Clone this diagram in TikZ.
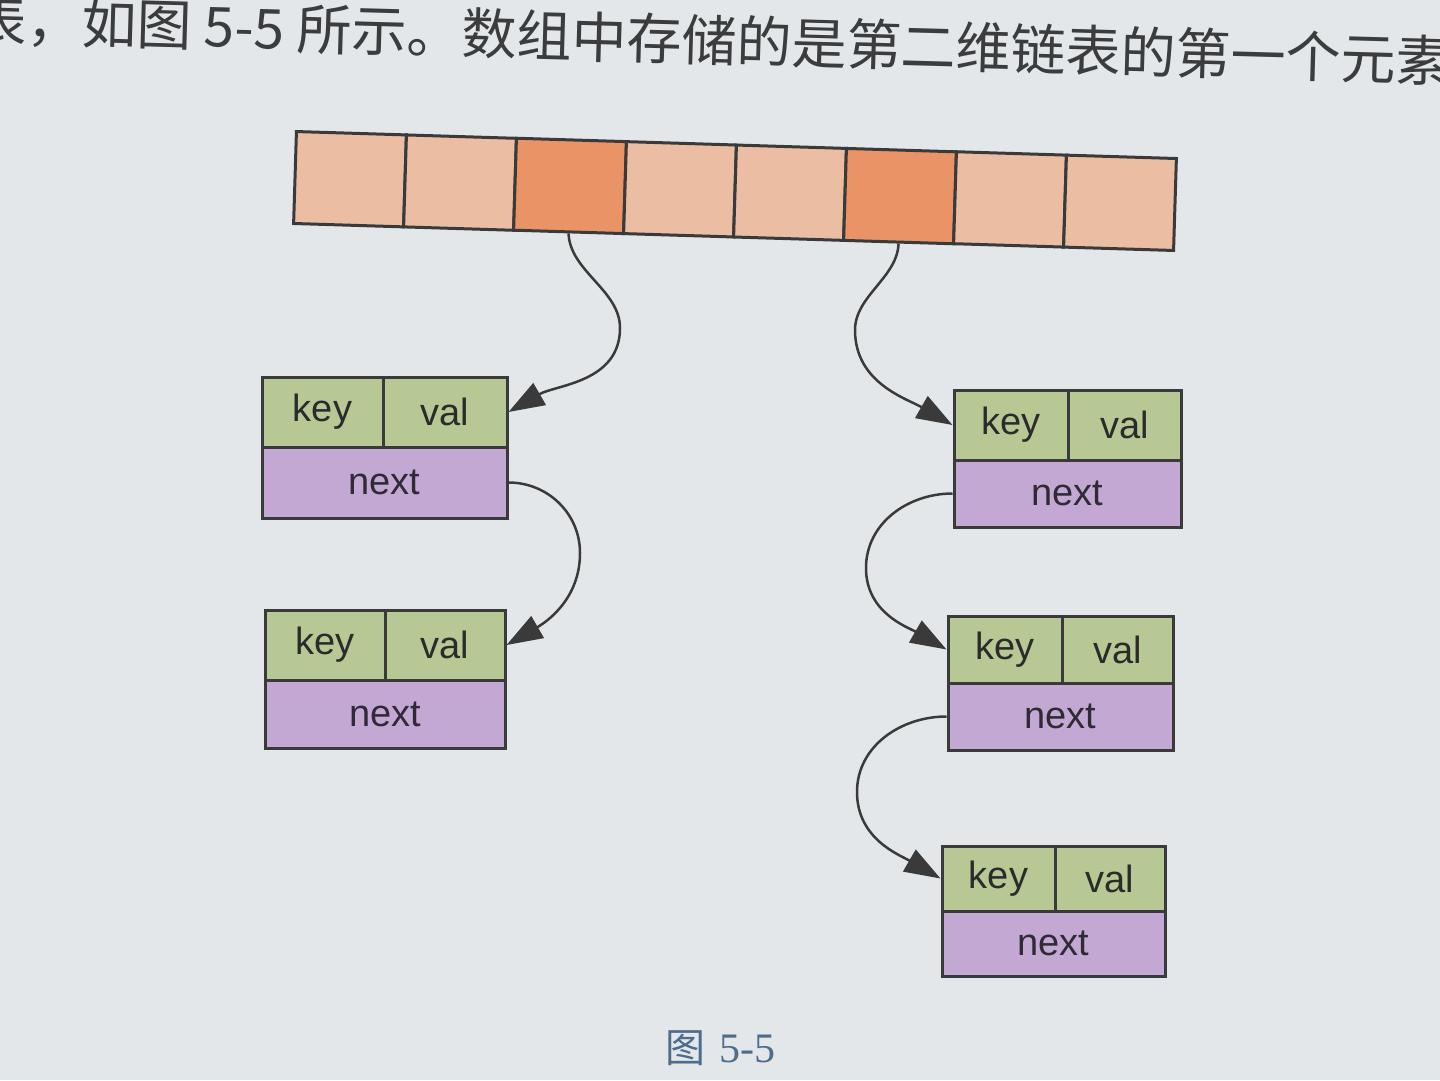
\documentclass[tikz,border=0pt]{standalone}
\usepackage{fontspec}
\setmainfont{Liberation Sans}
\newfontfamily\cjk{Noto Sans CJK SC}
\newfontfamily\capserif{Liberation Serif}
\usetikzlibrary{arrows.meta}
\definecolor{bg}{HTML}{E3E7E9}
\definecolor{edge}{HTML}{3A3A3A}
\definecolor{celllight}{HTML}{EBBDA2}
\definecolor{celldark}{HTML}{EA9366}
\definecolor{keyg}{HTML}{B7C894}
\definecolor{nextp}{HTML}{C4A8D4}
\definecolor{txt}{HTML}{2B2B2B}
\definecolor{nexttxt}{HTML}{2F2A35}
\definecolor{toptxt}{HTML}{3A3C3E}
\definecolor{capc}{HTML}{4E6C8C}
\begin{document}
\begin{tikzpicture}[x=1pt,y=-1pt,
  cell/.style={rectangle, draw=edge, line width=3pt, inner sep=0pt,
    minimum width=110pt, minimum height=92pt, rotate=-1.76},
  lightcell/.style={cell, fill=celllight},
  darkcell/.style={cell, fill=celldark},
  rec/.style={rectangle, draw=edge, line width=3pt, inner sep=0pt,
    text=txt, font=\fontsize{38}{44}\selectfont},
  kv/.style={rec, fill=keyg},
  nx/.style={rec, fill=nextp, text=nexttxt},
  conn/.style={draw=edge, line width=2.5pt, -{Triangle[length=36pt,width=25pt]}}
]
\useasboundingbox (0,0) rectangle (1440,1080);
\clip (0,0) rectangle (1440,1080);
\fill[bg] (0,0) rectangle (1440,1080);

% top text line of the page (cut at both page edges, as in the photo)
\node[anchor=west, rotate=-1.6, inner sep=0pt, text=toptxt,
  font=\cjk\fontsize{55}{62}\selectfont] (topline) at (-28,20)
  {表，如图 5-5 所示。数组中存储的是第二维链表的第一个元素};

% array
\node[lightcell] (a1) at (350,179.2) {};
\node[lightcell] (a2) at (460,182.6) {};
\node[darkcell]  (a3) at (570,185.9) {};
\node[lightcell] (a4) at (680,189.3) {};
\node[lightcell] (a5) at (790,192.7) {};
\node[darkcell]  (a6) at (900,196.1) {};
\node[lightcell] (a7) at (1010,199.4) {};
\node[lightcell] (a8) at (1120,202.8) {};

% left column
\node[kv, minimum width=121pt, minimum height=70pt] (L1k) at (322.5,412) {key};
\node[kv, minimum width=124pt, minimum height=70pt] (L1v) at (445,412) {val};
\node[nx, minimum width=245pt, minimum height=71pt] (L1n) at (384.5,482.5) {next};

\node[kv, minimum width=120pt, minimum height=70pt] (L2k) at (325,645) {key};
\node[kv, minimum width=120pt, minimum height=70pt] (L2v) at (445,645) {val};
\node[nx, minimum width=240pt, minimum height=68pt] (L2n) at (385,714) {next};

% right column
\node[kv, minimum width=114pt, minimum height=70pt] (R1k) at (1011,425) {key};
\node[kv, minimum width=113pt, minimum height=70pt] (R1v) at (1124.5,425) {val};
\node[nx, minimum width=227pt, minimum height=67pt] (R1n) at (1067.5,493.5) {next};

\node[kv, minimum width=114pt, minimum height=67pt] (R2k) at (1005,649.5) {key};
\node[kv, minimum width=111pt, minimum height=67pt] (R2v) at (1117.5,649.5) {val};
\node[nx, minimum width=225pt, minimum height=67pt] (R2n) at (1060.5,716.5) {next};

\node[kv, minimum width=113pt, minimum height=65pt] (R3k) at (998.5,878.5) {key};
\node[kv, minimum width=110pt, minimum height=65pt] (R3v) at (1110,878.5) {val};
\node[nx, minimum width=223pt, minimum height=65pt] (R3n) at (1053.5,943.5) {next};

% bend points
\coordinate (m1) at (620,328);
\coordinate (m2) at (855,330);
\coordinate (m3) at (580,553);
\coordinate (m4) at (866,568);
\coordinate (m5) at (857,792);

% connectors
\draw[conn] (a3.south) to[out=-88,in=90,looseness=0.9] (m1) to[out=-90,in=30] (L1v.east);
\draw[conn] (a6.south) to[out=-92,in=90,looseness=0.9] (m2) to[out=-90,in=150] (R1k.west);
\draw[conn] (L1n.east) to[out=0,in=90] (m3) to[out=-90,in=30] (L2v.east);
\draw[conn] (R1n.west) to[out=180,in=90] (m4) to[out=-90,in=150] (R2k.west);
\draw[conn] (R2n.west) to[out=180,in=90] (m5) to[out=-90,in=150] (R3k.west);

% caption
\node[inner sep=0pt, text=capc] (cap) at (720,1048)
  {\cjk\fontsize{40}{44}\selectfont 图\hspace{14pt}\capserif\fontsize{42}{44}\selectfont 5-5};
\end{tikzpicture}
\end{document}
